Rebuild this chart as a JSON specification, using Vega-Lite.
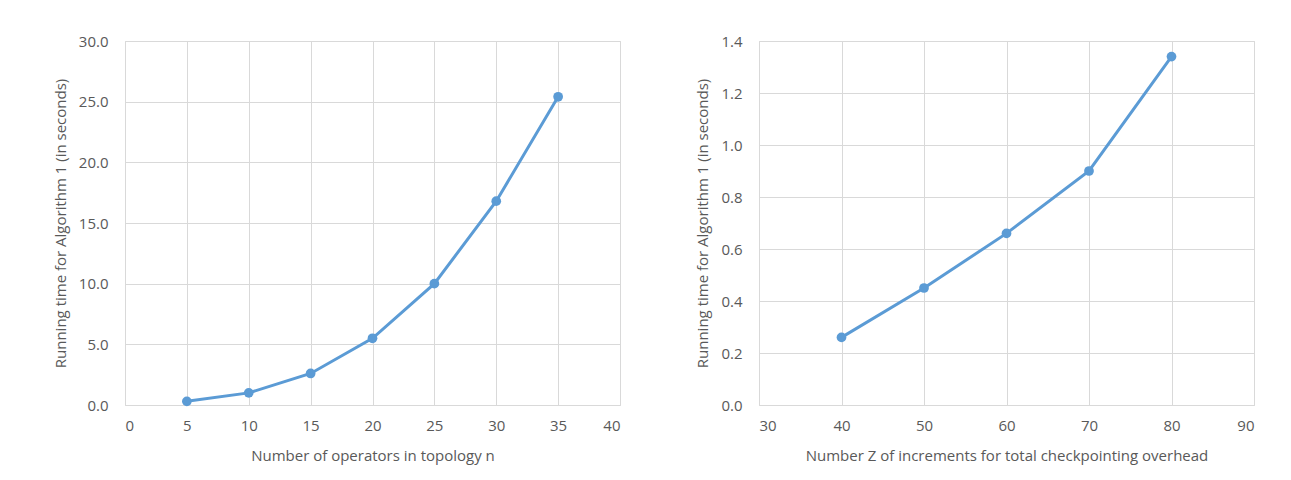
{
  "$schema": "https://vega.github.io/schema/vega-lite/v6.json",
  "background": "white",
  "padding": {"left": 52, "top": 33, "right": 10, "bottom": 10},
  "spacing": 139,
  "bounds": "flush",
  "datasets": {
    "ops": [
      {"n": 5, "time": 0.3},
      {"n": 10, "time": 1.0},
      {"n": 15, "time": 2.6},
      {"n": 20, "time": 5.5},
      {"n": 25, "time": 10.0},
      {"n": 30, "time": 16.8},
      {"n": 35, "time": 25.4}
    ],
    "incr": [
      {"z": 40, "time": 0.26},
      {"z": 50, "time": 0.45},
      {"z": 60, "time": 0.66},
      {"z": 70, "time": 0.90},
      {"z": 80, "time": 1.34}
    ]
  },
  "config": {
    "font": "Open Sans",
    "view": {"stroke": "#D9D9D9", "strokeWidth": 1},
    "axis": {
      "labelFont": "Open Sans",
      "titleFont": "Open Sans",
      "labelColor": "#595959",
      "titleColor": "#595959",
      "labelFontSize": 15,
      "titleFontSize": 15,
      "titleFontWeight": "normal",
      "gridColor": "#D9D9D9",
      "gridWidth": 1,
      "ticks": false,
      "domain": false
    },
    "axisX": {"labelPadding": 13, "titlePadding": 15},
    "axisY": {"labelPadding": 17, "titlePadding": 10}
  },
  "hconcat": [
    {
      "width": 495,
      "height": 364,
      "data": {"name": "ops"},
      "layer": [
        {
          "mark": {"type": "line", "color": "#5B9BD5", "strokeWidth": 3},
          "encoding": {
            "x": {"field": "n", "type": "quantitative", "scale": {"domain": [0, 40], "nice": false}, "axis": {"values": [0, 5, 10, 15, 20, 25, 30, 35, 40], "title": "Number of operators in topology n"}},
            "y": {"field": "time", "type": "quantitative", "scale": {"domain": [0, 30], "nice": false}, "axis": {"values": [0, 5, 10, 15, 20, 25, 30], "format": ".1f", "title": "Running time for Algorithm 1 (in seconds)"}}
          }
        },
        {
          "mark": {"type": "point", "filled": true, "color": "#5B9BD5", "size": 95, "opacity": 1},
          "encoding": {
            "x": {"field": "n", "type": "quantitative"},
            "y": {"field": "time", "type": "quantitative"}
          }
        }
      ]
    },
    {
      "width": 495,
      "height": 364,
      "data": {"name": "incr"},
      "layer": [
        {
          "mark": {"type": "line", "color": "#5B9BD5", "strokeWidth": 3},
          "encoding": {
            "x": {"field": "z", "type": "quantitative", "scale": {"domain": [30, 90], "nice": false, "zero": false}, "axis": {"values": [30, 40, 50, 60, 70, 80, 90], "title": "Number Z of increments for total checkpointing overhead"}},
            "y": {"field": "time", "type": "quantitative", "scale": {"domain": [0, 1.4], "nice": false}, "axis": {"values": [0, 0.2, 0.4, 0.6, 0.8, 1.0, 1.2, 1.4], "format": ".1f", "title": "Running time for Algorithm 1 (in seconds)"}}
          }
        },
        {
          "mark": {"type": "point", "filled": true, "color": "#5B9BD5", "size": 95, "opacity": 1},
          "encoding": {
            "x": {"field": "z", "type": "quantitative"},
            "y": {"field": "time", "type": "quantitative"}
          }
        }
      ]
    }
  ]
}
